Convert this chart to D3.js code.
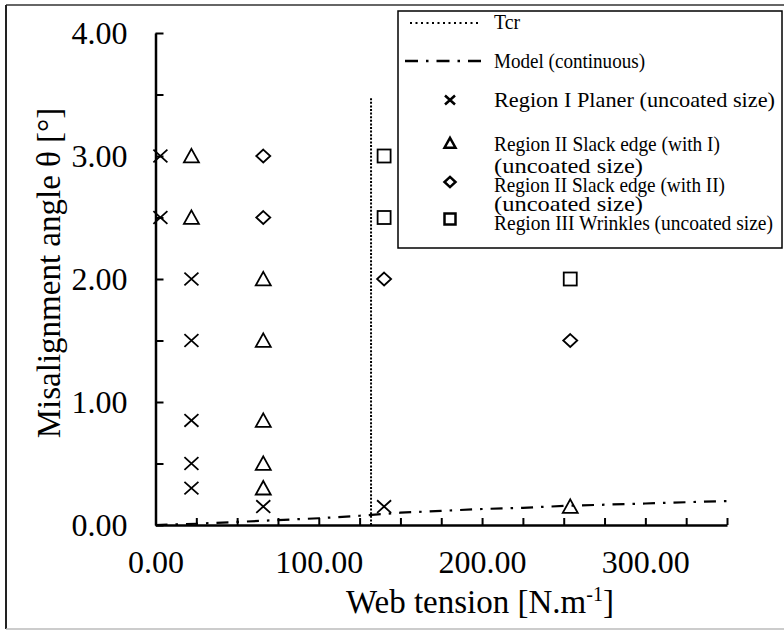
<!DOCTYPE html>
<html>
<head>
<meta charset="utf-8">
<script src="https://cdn.jsdelivr.net/npm/d3@7"></script>
<style>
  html, body { margin: 0; padding: 0; background: #fff; }
  svg { display: block; font-family: "Liberation Serif", "Times New Roman", serif; }
</style>
</head>
<body>
<svg id="chart" width="784" height="630"></svg>
<script>
// ---------- data ----------
const regionI_x   = [3, 3, 22, 22, 22, 22, 22, 66, 140];
const regionI_y   = [3.0, 2.5, 2.0, 1.5, 0.85, 0.5, 0.3, 0.15, 0.15];
const regionIIa_x = [22, 22, 66, 66, 66, 66, 66, 254];
const regionIIa_y = [3.0, 2.5, 2.0, 1.5, 0.85, 0.5, 0.3, 0.15];
const regionIIb_x = [66, 66, 140, 254];
const regionIIb_y = [3.0, 2.5, 2.0, 1.5];
const regionIII_x = [140, 140, 254];
const regionIII_y = [3.0, 2.5, 2.0];
const model_x = [0, 25, 50, 75, 100, 125, 150, 175, 200, 225, 250, 275, 300, 325, 350];
const model_y = [0, 0.01, 0.025, 0.04, 0.055, 0.075, 0.1, 0.115, 0.13, 0.14, 0.155, 0.165, 0.175, 0.185, 0.195];
const tcr_x = [132, 132];
const tcr_y = [0, 3.47];
const xTicks = [0, 25, 50, 75, 100, 125, 150, 175, 200, 225, 250, 275, 300, 325, 350];
const xTickLabels = [0, 100, 200, 300];
const yTicks = [0, 0.5, 1, 1.5, 2, 2.5, 3, 3.5, 4];
const yTickLabels = [0, 1, 2, 3, 4];
const legendLabels = [
  ["Tcr"],
  ["Model (continuous)"],
  ["Region I Planer (uncoated size)"],
  ["Region II Slack edge (with I)", "(uncoated size)"],
  ["Region II Slack edge (with II)", "(uncoated size)"],
  ["Region III Wrinkles (uncoated size)"]
];

// ---------- layout ----------
const svg = d3.select("#chart");
const x = d3.scaleLinear().domain([0, 350]).range([155.5, 727]);
const y = d3.scaleLinear().domain([0, 4]).range([525, 33]);
const fmt = d3.format(".2f");

// outer frame
svg.append("line").attr("x1", 6).attr("x2", 784).attr("y1", 5).attr("y2", 5)
  .attr("stroke", "#666").attr("stroke-width", 2);
svg.append("line").attr("x1", 6).attr("x2", 6).attr("y1", 5).attr("y2", 629)
  .attr("stroke", "#222").attr("stroke-width", 2);
svg.append("line").attr("x1", 6).attr("x2", 784).attr("y1", 629).attr("y2", 629)
  .attr("stroke", "#bbb").attr("stroke-width", 1.5);

// axes
const xAxis = d3.axisBottom(x).tickValues(xTicks).tickSizeInner(-7).tickSizeOuter(0)
  .tickPadding(25).tickFormat(d => xTickLabels.includes(d) ? fmt(d) : "");
const gx = svg.append("g").attr("transform", `translate(0,${y(0)})`).call(xAxis);
const yAxis = d3.axisLeft(y).tickValues(yTicks).tickSizeInner(-8).tickSizeOuter(0)
  .tickPadding(28).tickFormat(d => yTickLabels.includes(d) ? fmt(d) : "");
const gy = svg.append("g").attr("transform", `translate(${x(0)},0)`).call(yAxis);
[gx, gy].forEach(g => {
  g.attr("font-family", "Liberation Serif, Times New Roman, serif");
  g.select(".domain").attr("stroke", "#000").attr("stroke-width", 2.5);
  g.selectAll(".tick line").attr("stroke", "#000").attr("stroke-width", 2);
  g.selectAll(".tick text").attr("fill", "#000").attr("font-size", 32);
});

// axis titles
svg.append("text").attr("x", 480).attr("y", 613).attr("text-anchor", "middle")
  .attr("font-size", 33).attr("fill", "#000")
  .html('Web tension [N.m<tspan font-size="20" dy="-12">-1</tspan><tspan dy="12">]</tspan>');
svg.append("text").attr("transform", "translate(60,273) rotate(-90)")
  .attr("text-anchor", "middle").attr("font-size", 33).attr("fill", "#000")
  .text("Misalignment angle θ [°]");

// lines
const lineGen = d3.line().x(d => x(d[0])).y(d => y(d[1]));
svg.append("path").datum(tcr_x.map((v, i) => [v, tcr_y[i]]))
  .attr("d", lineGen).attr("fill", "none").attr("stroke", "#000")
  .attr("stroke-width", 2).attr("stroke-dasharray", "2,1.6");
svg.append("path").datum(model_x.map((v, i) => [v, model_y[i]]))
  .attr("d", lineGen).attr("fill", "none").attr("stroke", "#000")
  .attr("stroke-width", 2.2).attr("stroke-dasharray", "12,8,2.5,8");

// markers
function drawMarker(g, type, cx, cy, s, sw) {
  const h = s / 2;
  if (type === "x") {
    g.append("path").attr("d", `M${cx-h},${cy-h*0.9}L${cx+h},${cy+h*0.9}M${cx-h},${cy+h*0.9}L${cx+h},${cy-h*0.9}`)
      .attr("stroke", "#000").attr("stroke-width", sw).attr("fill", "none");
  } else if (type === "tri") {
    g.append("path").attr("d", `M${cx},${cy-h*0.95}L${cx+h},${cy+h*0.85}L${cx-h},${cy+h*0.85}Z`)
      .attr("stroke", "#000").attr("stroke-width", sw).attr("fill", "none").attr("stroke-linejoin", "miter");
  } else if (type === "dia") {
    g.append("path").attr("d", `M${cx},${cy-h*0.92}L${cx+h},${cy}L${cx},${cy+h*0.92}L${cx-h},${cy}Z`)
      .attr("stroke", "#000").attr("stroke-width", sw).attr("fill", "none");
  } else if (type === "sq") {
    g.append("rect").attr("x", cx - h).attr("y", cy - h).attr("width", s).attr("height", s)
      .attr("stroke", "#000").attr("stroke-width", sw).attr("fill", "none");
  }
}
const series = [
  ["x", regionI_x, regionI_y, 14],
  ["tri", regionIIa_x, regionIIa_y, 15],
  ["dia", regionIIb_x, regionIIb_y, 14],
  ["sq", regionIII_x, regionIII_y, 13]
];
const gm = svg.append("g");
series.forEach(([t, xs, ys, s]) => {
  xs.forEach((v, i) => drawMarker(gm, t, x(v), y(ys[i]), s, 1.8));
});

// legend
const lg = svg.append("g");
lg.append("rect").attr("x", 398).attr("y", 11).attr("width", 384).attr("height", 237)
  .attr("fill", "#fff").attr("stroke", "#000").attr("stroke-width", 1.5);
lg.append("line").attr("x1", 410).attr("x2", 481).attr("y1", 23).attr("y2", 23)
  .attr("stroke", "#000").attr("stroke-width", 2).attr("stroke-dasharray", "2,3.5");
lg.append("line").attr("x1", 405).attr("x2", 486).attr("y1", 61).attr("y2", 61)
  .attr("stroke", "#000").attr("stroke-width", 2.5).attr("stroke-dasharray", "13,8,2.5,8");
drawMarker(lg, "x", 450, 100, 10, 2.5);
drawMarker(lg, "tri", 450, 143, 11, 2.5);
drawMarker(lg, "dia", 450, 182, 11, 2.5);
drawMarker(lg, "sq", 450, 219, 11, 2.5);
const baselines = [[29], [68], [107], [151, 173], [192, 211], [230]];
const widths = [[26], [151], [281], [226, 149], [231, 149], [279]];
legendLabels.forEach((lines, i) => {
  lines.forEach((t, j) => {
    lg.append("text").attr("x", 494).attr("y", baselines[i][j])
      .attr("font-size", 21).attr("fill", "#000")
      .attr("textLength", widths[i][j]).attr("lengthAdjust", "spacingAndGlyphs")
      .text(t);
  });
});
</script>
</body>
</html>
